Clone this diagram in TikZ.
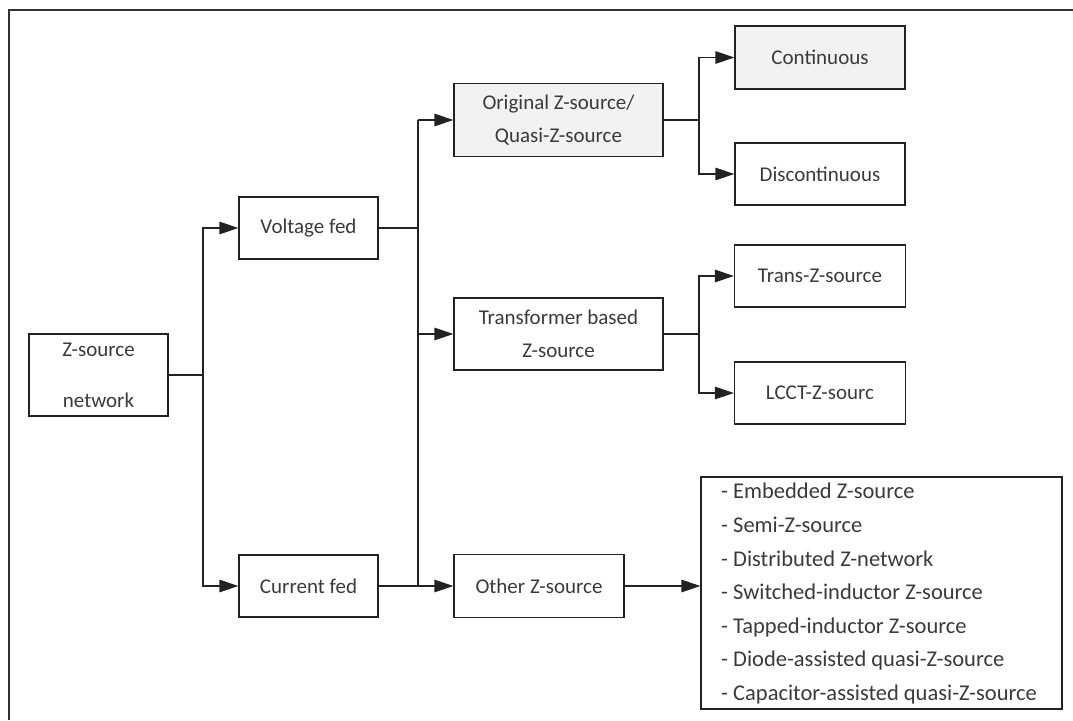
\documentclass[tikz,border=0pt]{standalone}
\usepackage{fontspec}
\setmainfont{Carlito}
\usetikzlibrary{arrows.meta}
\definecolor{linec}{HTML}{222222}
\definecolor{textc}{HTML}{3A3A3A}
\definecolor{boxfill}{HTML}{F2F2F2}
\tikzset{
  bx/.style={draw=linec, line width=1.2pt, rectangle, inner sep=0pt, align=center,
    text=textc, font=\fontsize{21}{33}\selectfont},
  conn/.style={draw=linec, line width=1.2pt},
  arr/.style={conn, -{Triangle[length=19pt,width=12.5pt]}},
}
\begin{document}
\begin{tikzpicture}[x=1pt,y=-1pt]
\useasboundingbox (0,0) rectangle (1073,720);
% outer frame (cropped)
\draw[draw=black!80, line width=2pt] (9,720) -- (9,10) -- (1073,10);

\node[bx, minimum width=139pt, minimum height=82pt] (zsn) at (98.5,375) {Z-source\\[18pt]network};
\node[bx, minimum width=139pt, minimum height=62pt] (vf) at (308.5,228) {Voltage fed};
\node[bx, minimum width=139pt, minimum height=62pt] (cf) at (308.5,586) {Current fed};
\node[bx, fill=boxfill, minimum width=209pt, minimum height=73pt] (orig) at (558.5,120) {Original Z-source/\\Quasi-Z-source};
\node[bx, minimum width=209pt, minimum height=72pt] (tb) at (558.5,334) {Transformer based\\Z-source};
\node[bx, minimum width=170pt, minimum height=63pt] (other) at (539,586) {Other Z-source};
\node[bx, fill=boxfill, minimum width=170pt, minimum height=63pt] (cont) at (820,57.5) {Continuous};
\node[bx, minimum width=170pt, minimum height=62pt] (disc) at (820,174) {Discontinuous};
\node[bx, minimum width=171pt, minimum height=62pt] (trans) at (820,276) {Trans-Z-source};
\node[bx, minimum width=171pt, minimum height=62pt] (lcct) at (820,393) {LCCT-Z-sourc};
\node[bx, minimum width=361pt, minimum height=232pt] (list) at (881.5,593) {};
\node[text=textc, font=\fontsize{22.5}{33.6}\selectfont, align=left, anchor=north west, inner sep=0pt]
  (listtext) at (721,483) {- Embedded Z-source\\- Semi-Z-source\\- Distributed Z-network\\- Switched-inductor Z-source\\- Tapped-inductor Z-source\\- Diode-assisted quasi-Z-source\\- Capacitor-assisted quasi-Z-source};

% trunks
\coordinate (t1) at (203,375);
\coordinate (t2) at (418,0);
\coordinate (t3) at (699,0);

\draw[conn] (zsn.east) -- (t1);
\draw[arr] (t1) |- (vf.west);
\draw[arr] (t1) |- (cf.west);

\draw[conn] (vf.east) -- (vf.east -| t2);
\draw[conn] (t2 |- orig.west) -- (t2 |- other.west);
\draw[arr] (t2 |- orig.west) -- (orig.west);
\draw[arr] (t2 |- tb.west) -- (tb.west);
\draw[arr] (cf.east) -- (other.west);

\draw[conn] (orig.east) -- (orig.east -| t3);
\draw[arr] (orig.east -| t3) |- (cont.west);
\draw[arr] (orig.east -| t3) |- (disc.west);

\draw[conn] (tb.east) -- (tb.east -| t3);
\draw[arr] (tb.east -| t3) |- (trans.west);
\draw[arr] (tb.east -| t3) |- (lcct.west);

\draw[arr] (other.east) -- (other.east -| list.west);
\end{tikzpicture}
\end{document}
